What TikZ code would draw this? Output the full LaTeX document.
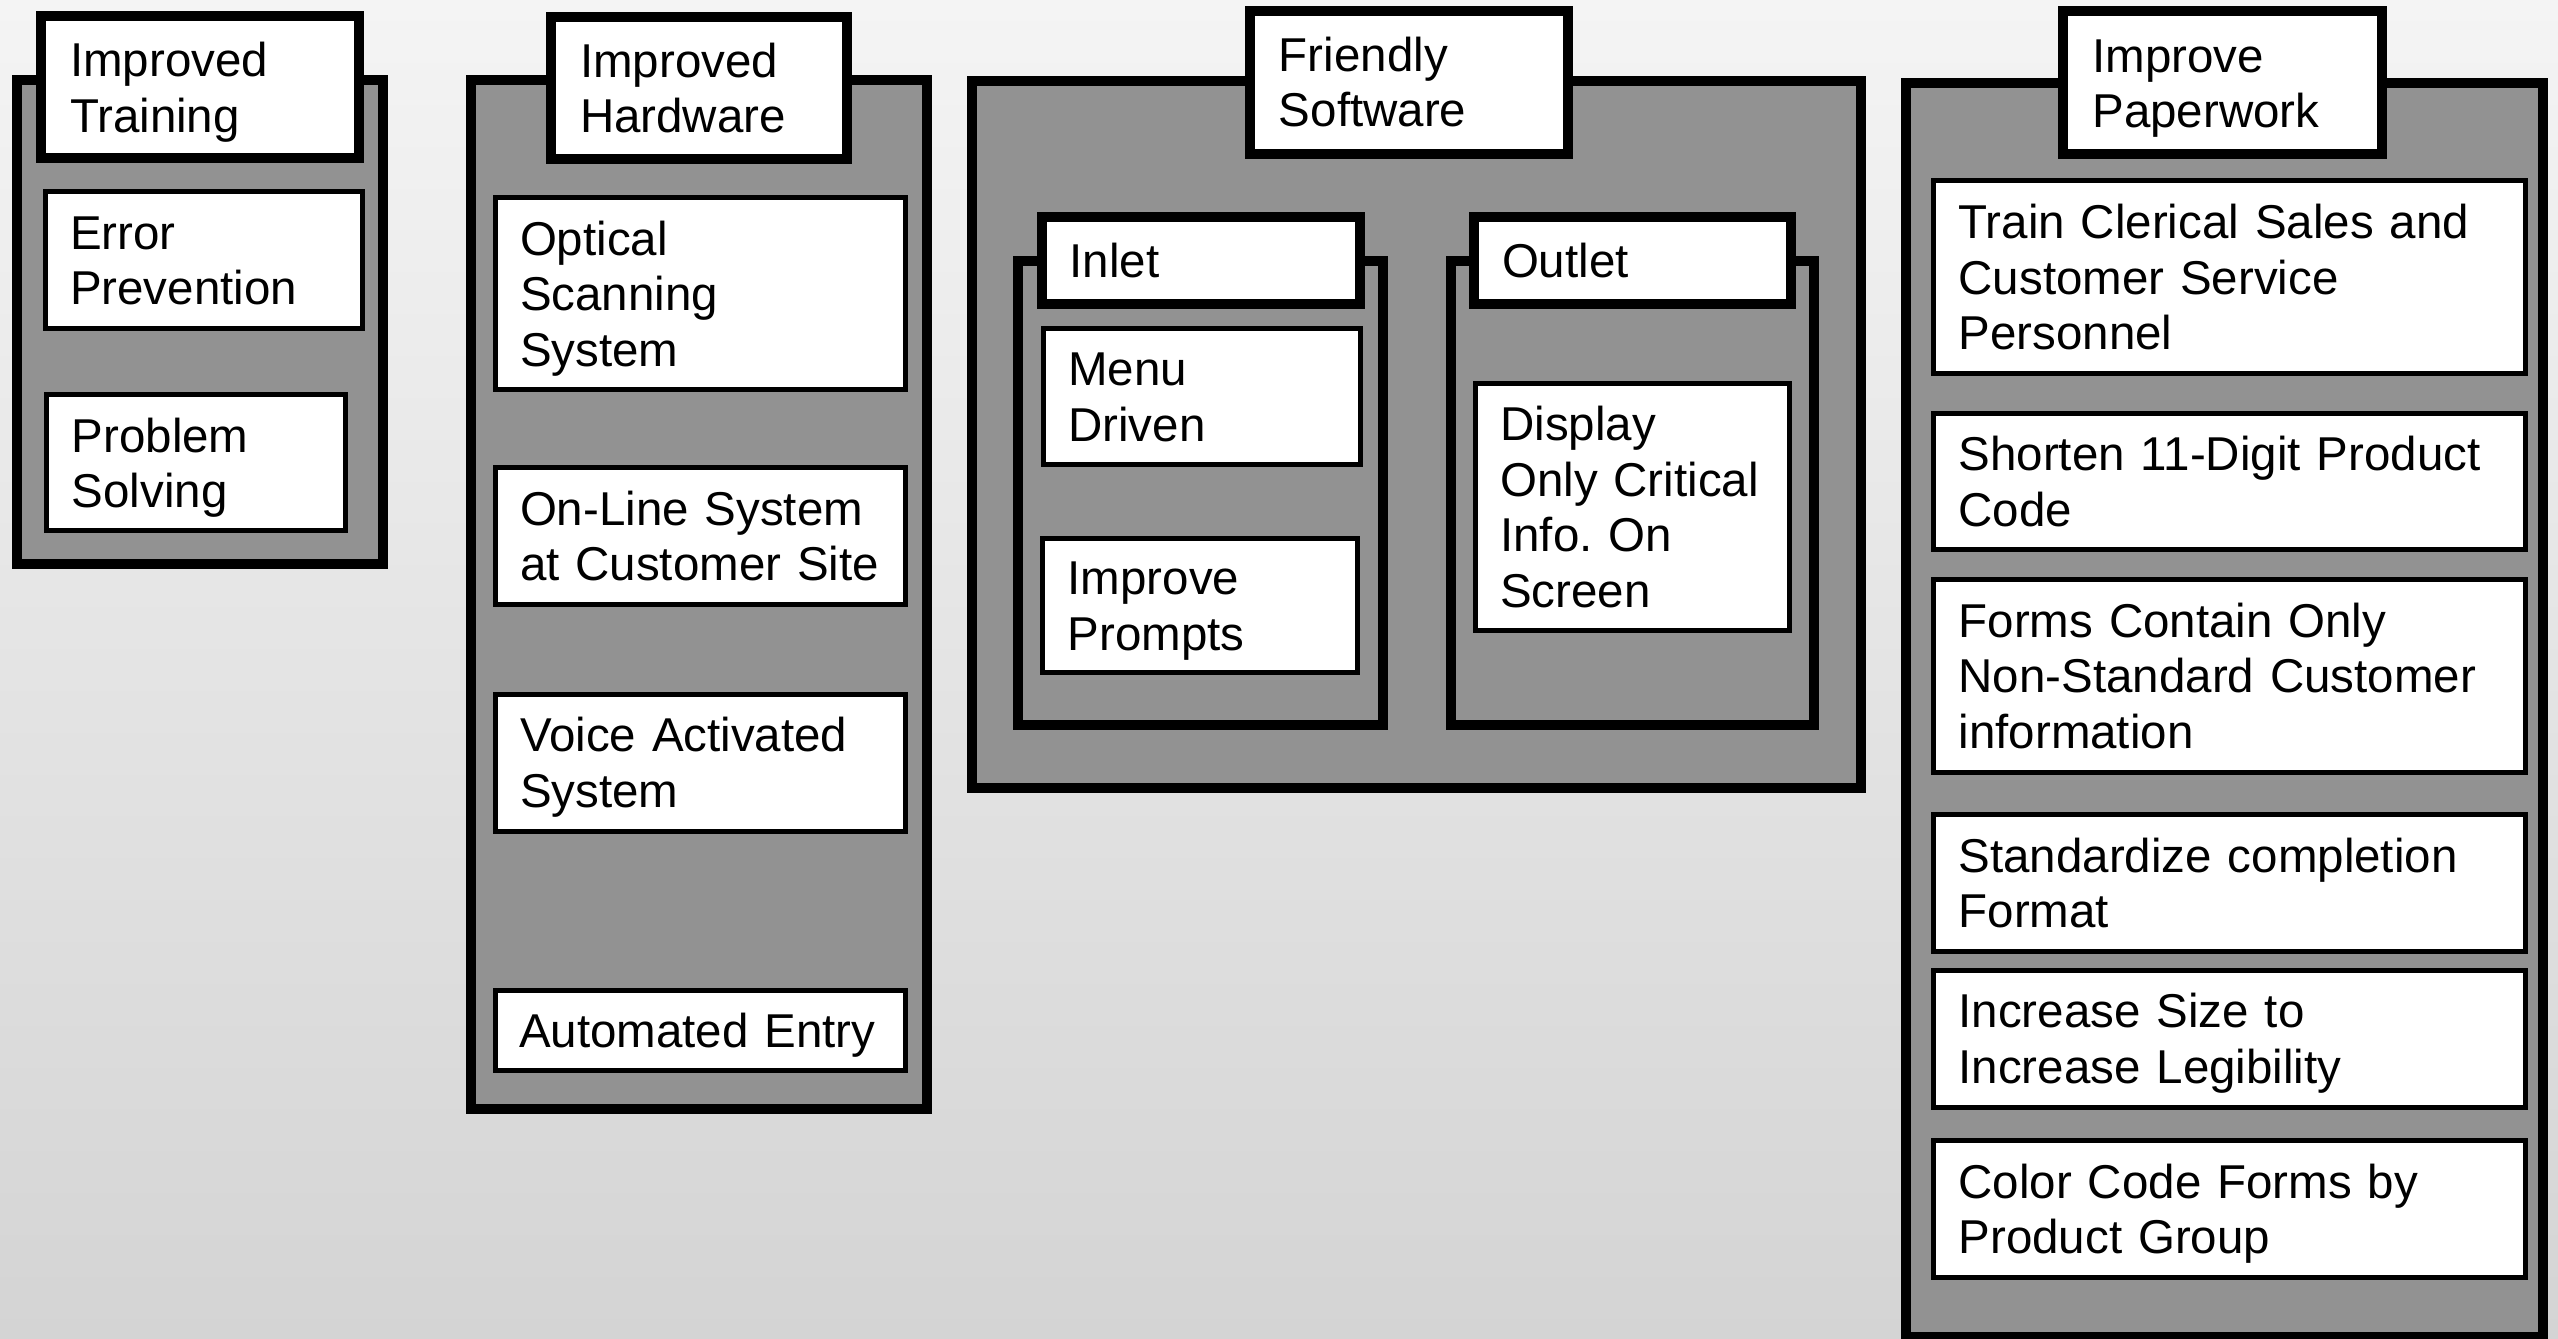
\documentclass[tikz,border=0pt]{standalone}
\usepackage{fontspec}
\setmainfont{Liberation Sans}
\definecolor{panelgray}{RGB}{146,146,146}
\definecolor{bgtop}{RGB}{244,244,244}
\definecolor{bgbottom}{RGB}{212,212,212}
% labels are broken by hand only
\hyphenpenalty=10000
\exhyphenpenalty=10000
\lefthyphenmin=62

% One box, given by the centres of its left, top, right and bottom edges (in px).
% #1 style, #2 text padding (px), #3 name, #4 left, #5 top, #6 right, #7 bottom,
% #8 number of text lines, #9 text
\newcommand\placebox[9]{%
  \pgfmathsetlengthmacro\pbw{(#6-#4)*0.3pt}%
  \pgfmathsetlengthmacro\pbh{(#7-#5)*0.3pt}%
  \pgfmathsetlengthmacro\ppad{#2*0.3pt}%
  \pgfmathsetlengthmacro\ptw{(#6-#4-2*#2)*0.3pt}%
  \pgfmathsetlengthmacro\ptd{(#8-1)*16.65pt}%
  \node[#1, minimum width=\pbw, minimum height=\pbh, inner xsep=\ppad,
        text width=\ptw, text height=10.2pt, text depth=\ptd]
        (#3) at ({(#4+#6)/2},{(#5+#7)/2}) {#9};}

\tikzset{
  basebox/.style={rectangle, inner ysep=0pt, outer sep=0pt, align=left,
    font=\fontsize{14.25pt}{16.65pt}\selectfont},
  panel/.style={basebox, draw=black, fill=panelgray, line width=3pt},
  titlebox/.style={basebox, draw=black, fill=white, line width=3pt},
  itembox/.style={basebox, draw=black, fill=white, line width=1.5pt},
}

\begin{document}
\begin{tikzpicture}[x=0.3pt, y=-0.3pt]
  % page and background
  \useasboundingbox (0,0) rectangle (2558,1339);
  \shade[top color=bgtop, bottom color=bgbottom] (0,0) rectangle (2558,1339);

  % --- Improved Training ---
  \placebox{panel}{0}{pTrain}{17}{80}{383}{564}{1}{}
  \placebox{titlebox}{29}{tTrain}{41}{16.5}{359}{158.4}{2}{Improved\\Training}
  \placebox{itembox}{25}{errprev}{45}{192}{362.7}{328.4}{2}{Error\\Prevention}
  \placebox{itembox}{25}{probsolv}{46.7}{395}{345}{530.8}{2}{Problem\\Solving}

  % --- Improved Hardware ---
  \placebox{panel}{0}{pHard}{471}{80}{926.7}{1108.7}{1}{}
  \placebox{titlebox}{29}{tHard}{551}{16.7}{846.7}{159}{2}{Improved\\Hardware}
  \placebox{itembox}{25}{optical}{495}{197.3}{905.7}{390}{3}{Optical\\Scanning\\System}
  \placebox{itembox}{25}{online}{495}{467.7}{905.7}{604.3}{2}{On-Line~System\\at~Customer~Site}
  \placebox{itembox}{25}{voice}{495}{694.3}{905.7}{831}{2}{Voice~Activated\\System}
  \placebox{itembox}{24}{autoentry}{495}{990}{905.7}{1070.7}{1}{Automated~Entry}

  % --- Friendly Software ---
  \placebox{panel}{0}{pSoft}{972.3}{80.6}{1861.2}{788.3}{1}{}
  \placebox{titlebox}{29}{tSoft}{1249.9}{10.7}{1567.9}{153.6}{2}{Friendly\\Software}
  \placebox{panel}{0}{pInlet}{1018.1}{261.2}{1383}{725}{1}{}
  \placebox{titlebox}{28}{tInlet}{1041.6}{217.3}{1359.6}{304.1}{1}{Inlet}
  \placebox{itembox}{25}{menu}{1043.3}{328.6}{1360.8}{464.3}{2}{Menu\\Driven}
  \placebox{itembox}{25}{prompts}{1042.7}{538.8}{1357.8}{672.4}{2}{Improve\\Prompts}
  \placebox{panel}{0}{pOutlet}{1450.5}{261.2}{1814.3}{725}{1}{}
  \placebox{titlebox}{28}{tOutlet}{1474}{217.3}{1790.8}{304.1}{1}{Outlet}
  \placebox{itembox}{25}{display}{1475.2}{383.2}{1789.7}{630.6}{4}{Display\\Only~Critical\\Info.~On\\Screen}

  % --- Improve Paperwork ---
  \placebox{panel}{0}{pPaper}{1906.4}{83.4}{2542.9}{1337}{1}{}
  \placebox{titlebox}{29}{tPaper}{2063.3}{11.5}{2381.6}{154.2}{2}{Improve\\Paperwork}
  \placebox{itembox}{25}{trainclerical}{1933.6}{180.6}{2525.1}{373.5}{3}{Train~Clerical~Sales~and\\Customer~Service\\Personnel}
  \placebox{itembox}{25}{shorten}{1933.6}{413.3}{2525.1}{550}{2}{Shorten~11-Digit~Product\\Code}
  \placebox{itembox}{25}{forms}{1933.6}{579.3}{2525.1}{772.3}{3}{Forms~Contain~Only\\Non-Standard~Customer\\information}
  \placebox{itembox}{25}{standardize}{1933.6}{814.6}{2525.1}{951.1}{2}{Standardize~completion\\Format}
  \placebox{itembox}{25}{legibility}{1933.6}{970}{2525.1}{1107}{2}{Increase~Size~to\\Increase~Legibility}
  \placebox{itembox}{25}{colorcode}{1933.6}{1140.8}{2525.1}{1277.5}{2}{Color~Code~Forms~by\\Product~Group}
\end{tikzpicture}
\end{document}
